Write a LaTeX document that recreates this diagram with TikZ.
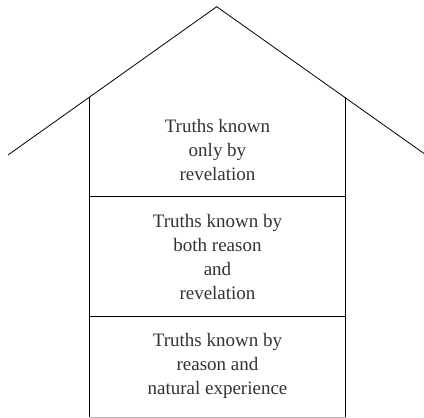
\documentclass[tikz,border=0pt]{standalone}
\usepackage{fontspec}
\setmainfont{Liberation Serif}
\begin{document}
\begin{tikzpicture}[x=1pt,y=1pt,line width=0.8pt,
  room/.style={align=center,font=\fontsize{19}{24}\selectfont,text=black!80}]
\useasboundingbox (0,0) rectangle (424,418);
\coordinate (eaveL) at (8,263);
\coordinate (apex) at (216.7,411.3);
\coordinate (eaveR) at (424,264.5);
\coordinate (wallL) at (89.5,320.5);
\coordinate (wallR) at (345.5,320.5);
\coordinate (midL) at (89.5,222);
\coordinate (midR) at (345.5,222);
\coordinate (lowL) at (89.5,101.7);
\coordinate (lowR) at (345.5,101.7);
\coordinate (floorL) at (89.5,1);
\coordinate (floorR) at (345.5,1);
\draw (eaveL) -- (apex) -- (eaveR);
\draw (wallL) -- (floorL);
\draw (wallR) -- (floorR);
\draw (midL) -- (midR);
\draw (lowL) -- (lowR);
\draw[black!30] (floorL) -- (floorR);
\node[room] (revealed) at (217.5,268) {Truths known\\only by\\revelation};
\node[room] (both) at (217.5,160.5) {Truths known by\\both reason\\and\\revelation};
\node[room] (natural) at (217.5,52.3) {Truths known by\\reason and\\natural experience};
\end{tikzpicture}
\end{document}
